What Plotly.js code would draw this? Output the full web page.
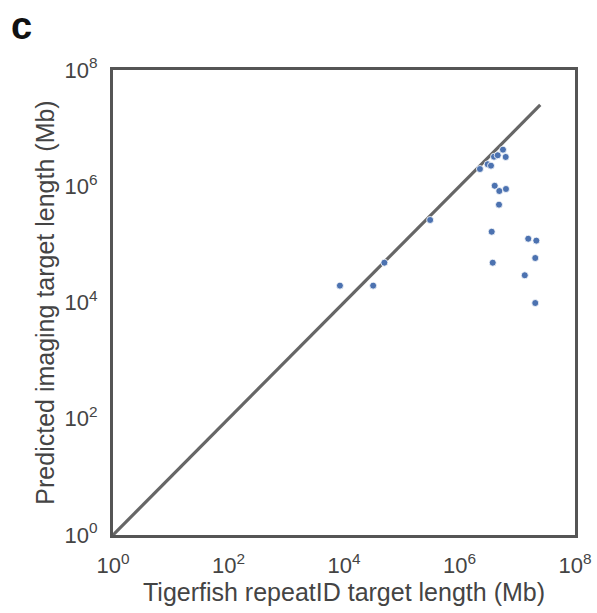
<!DOCTYPE html>
<html>
<head>
<meta charset="utf-8">
<script src="https://cdn.plot.ly/plotly-3.0.1.min.js"></script>
<style>html,body{margin:0;padding:0;background:#fff;}#chart{width:597px;height:613px;}</style>
</head>
<body>
<div id="chart"></div>
<script>
// Tigerfish repeatID target length (Mb)
const repeatIdLength = [8.5e3, 3.2e4, 5.0e4, 3.1e5, 2.26e6, 3.08e6, 3.51e6, 3.96e6, 4.59e6, 5.66e6, 6.31e6,
  4.07e6, 4.89e6, 6.38e6, 4.83e6, 3.61e6, 3.76e6, 1.55e7, 2.14e7, 2.05e7, 1.35e7, 2.05e7];
// Predicted imaging target length (Mb)
const imagingLength = [1.95e4, 1.95e4, 4.84e4, 2.63e5, 1.98e6, 2.39e6, 2.26e6, 3.22e6, 3.41e6, 4.26e6, 3.19e6,
  1.02e6, 8.28e5, 8.97e5, 4.82e5, 1.65e5, 4.84e4, 1.25e5, 1.16e5, 5.83e4, 2.94e4, 9.8e3];
// identity line
const identityX = [1, 2.5e7];
const identityY = [1, 2.5e7];
const tickValues = [1, 1e2, 1e4, 1e6, 1e8];
const tickLabels = ["10<sup>0</sup>", "10<sup>2</sup>", "10<sup>4</sup>", "10<sup>6</sup>", "10<sup>8</sup>"];

const font = "Liberation Sans, Arial, sans-serif";
const textColor = "#444444";

const traces = [
  {x: identityX, y: identityY, mode: "lines", line: {color: "#666666", width: 3.2}, hoverinfo: "skip", showlegend: false},
  {x: repeatIdLength, y: imagingLength, mode: "markers",
   marker: {color: "#4C72B0", size: 7, line: {color: "#ffffff", width: 0.8}}, showlegend: false}
];

const axisCommon = {
  type: "log", range: [0, 8], tickmode: "array", tickvals: tickValues, ticktext: tickLabels,
  showgrid: false, zeroline: false, showline: true, mirror: true, linecolor: "#555555", linewidth: 3,
  ticks: "outside", ticklen: 9, tickcolor: "rgba(0,0,0,0)",
  tickfont: {family: font, size: 22, color: textColor}
};

const layout = {
  width: 597, height: 613,
  margin: {l: 113, r: 22, t: 70, b: 78},
  paper_bgcolor: "#ffffff", plot_bgcolor: "#ffffff",
  xaxis: Object.assign({}, axisCommon, {
    title: {text: "Tigerfish repeatID target length (Mb)", font: {family: font, size: 25, color: textColor}, standoff: 1}
  }),
  yaxis: Object.assign({}, axisCommon, {
    ticklen: 8,
    title: {text: "Predicted imaging target length (Mb)", font: {family: font, size: 25, color: textColor}, standoff: 3}
  }),
  annotations: [{
    text: "<b>c</b>", xref: "paper", yref: "paper", x: -0.226, y: 1.095, xanchor: "left", yanchor: "middle",
    showarrow: false, font: {family: font, size: 38, color: "#111111"}
  }]
};

Plotly.newPlot("chart", traces, layout, {staticPlot: true});
</script>
</body>
</html>
